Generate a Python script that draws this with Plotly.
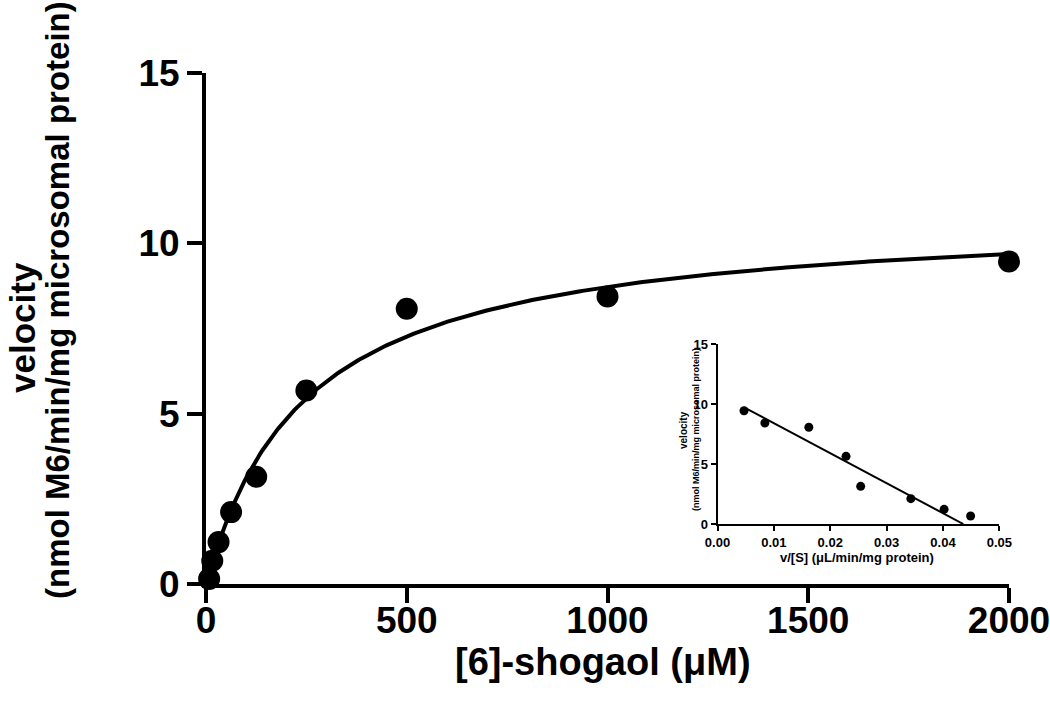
import numpy as np
import plotly.graph_objects as go

# ---- main plot data: Michaelis-Menten ----
substrate_uM = [7.8, 15.6, 31.25, 62.5, 125, 250, 500, 1000, 2000]
velocity = [0.15, 0.68, 1.23, 2.11, 3.15, 5.68, 8.08, 8.44, 9.47]

# fitted Michaelis-Menten parameters
VMAX = 10.9
KM = 250.0

# ---- inset data: Eadie-Hofstee ----
inset_v_over_s = [0.0047, 0.0084, 0.0162, 0.0228, 0.0254, 0.0343, 0.0402, 0.0449]
inset_velocity = [9.44, 8.42, 8.06, 5.64, 3.14, 2.11, 1.22, 0.67]
inset_line_x = [0.0047, 0.0436]

main_x_ticks = [0, 500, 1000, 1500, 2000]
main_y_ticks = [0, 5, 10, 15]
inset_x_ticks = [0.0, 0.01, 0.02, 0.03, 0.04, 0.05]
inset_y_ticks = [0, 5, 10, 15]

FONT = "Liberation Sans, Arial, sans-serif"

curve_s = np.linspace(0, 2000, 400)
curve_v = VMAX * curve_s / (KM + curve_s)
line_y = [VMAX - KM * x for x in inset_line_x]

fig = go.Figure()
fig.add_trace(go.Scatter(x=curve_s, y=curve_v, mode="lines",
                         line=dict(color="black", width=4), cliponaxis=False,
                         showlegend=False, hoverinfo="skip"))
fig.add_trace(go.Scatter(x=substrate_uM, y=velocity, mode="markers",
                         marker=dict(color="black", size=22), cliponaxis=False,
                         showlegend=False))
fig.add_trace(go.Scatter(x=inset_line_x, y=line_y, mode="lines", xaxis="x2", yaxis="y2",
                         line=dict(color="black", width=2), cliponaxis=False,
                         showlegend=False, hoverinfo="skip"))
fig.add_trace(go.Scatter(x=inset_v_over_s, y=inset_velocity, mode="markers",
                         xaxis="x2", yaxis="y2",
                         marker=dict(color="black", size=9), cliponaxis=False,
                         showlegend=False))

axis_common = dict(showline=True, linecolor="black", ticks="outside", tickcolor="black",
                   showgrid=False, zeroline=False, automargin=False,
                   ticklabeloverflow="allow")

fig.update_layout(
    template="none",
    width=1050, height=702,
    margin=dict(l=206, r=41, t=73, b=118),
    paper_bgcolor="white", plot_bgcolor="white",
    font=dict(family=FONT, color="black"),
    xaxis=dict(range=[0, 2000], tickvals=main_x_ticks, linewidth=4, tickwidth=4, ticklen=15,
               ticklabelstandoff=-14,
               tickfont=dict(size=37, weight="bold"), **axis_common),
    yaxis=dict(range=[0, 15], tickvals=main_y_ticks, linewidth=4, tickwidth=4, ticklen=15,
               tickfont=dict(size=37, weight="bold"), **axis_common),
    xaxis2=dict(domain=[0.637, 0.988], anchor="y2", range=[0, 0.05], tickvals=inset_x_ticks,
                tickformat=".2f", linewidth=2, tickwidth=2, ticklen=5,
                tickfont=dict(size=13, weight="bold"), **axis_common),
    yaxis2=dict(domain=[0.1174, 0.4697], anchor="x2", range=[0, 15], tickvals=inset_y_ticks,
                linewidth=2, tickwidth=2, ticklen=5,
                tickfont=dict(size=13, weight="bold"), **axis_common),
)

def ann(text, x, y, size, angle=0):
    fig.add_annotation(text=text, x=x, y=y, xref="paper", yref="paper",
                       xanchor="center", yanchor="middle", showarrow=False,
                       textangle=angle, font=dict(size=size, weight="bold", family=FONT))

def px(xp, yp):
    # convert screen pixel position to paper coords (plot area 206..1009, 73..584)
    return (xp - 206) / 803, (584 - yp) / 511

x, y = px(603, 662); ann("[6]-shogaol (μM)", x, y, 38)
x, y = px(22, 328); ann("velocity", x, y, 35, -90)
x, y = px(57, 300); ann("(nmol M6/min/mg microsomal protein)", x, y, 33, -90)
x, y = px(857, 557); ann("v/[S] (μL/min/mg protein)", x, y, 13)
x, y = px(683, 430); ann("velocity", x, y, 10, -90)
x, y = px(696, 430); ann("(nmol M6/min/mg microsomal protein)", x, y, 9, -90)

# remove the default 8px page margin so the figure fills the 1050x702 window
fig.write_html("out.html", config={"displayModeBar": False},
               post_script="document.body.style.margin='0';document.body.style.overflow='hidden';")
